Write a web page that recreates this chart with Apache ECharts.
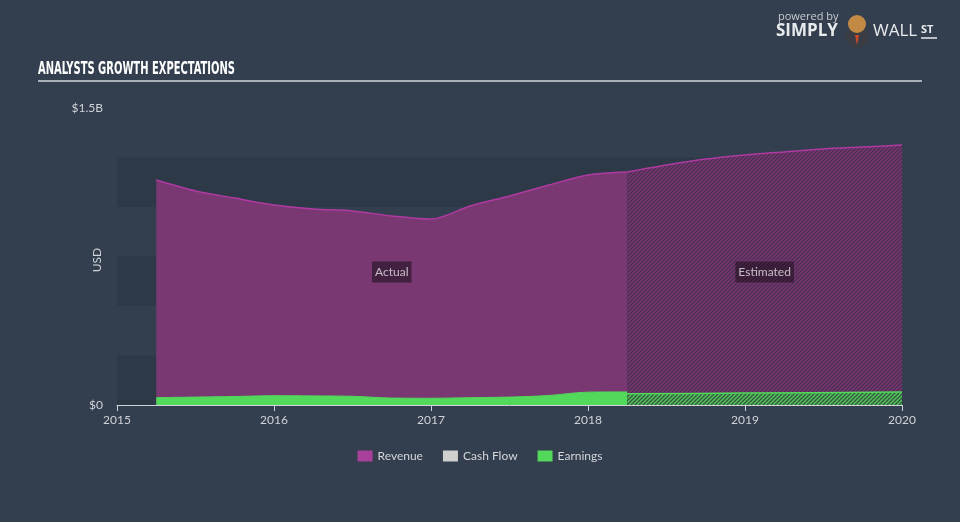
<!DOCTYPE html>
<html>
<head>
<meta charset="utf-8">
<script src="https://cdn.jsdelivr.net/npm/echarts@6/dist/echarts.min.js"></script>
<style>
html,body{margin:0;padding:0;background:#333f4f;}
#chart{width:960px;height:522px;}
</style>
</head>
<body>
<div id="chart"></div>
<script>
// ---- data ----
const revenueActualX = [2015.25, 2015.5, 2015.75, 2016.0, 2016.25, 2016.5, 2016.75, 2017.0, 2017.25, 2017.5, 2017.75, 2018.0, 2018.25];
const revenueActual  = [1.136e9, 1.081e9, 1.045e9, 1.010e9, 0.990e9, 0.980e9, 0.955e9, 0.939e9, 1.005e9, 1.056e9, 1.111e9, 1.162e9, 1.177e9];
const revenueEstX    = [2018.25, 2018.5, 2018.75, 2019.0, 2019.25, 2019.5, 2019.75, 2020.0];
const revenueEst     = [1.177e9, 1.212e9, 1.242e9, 1.263e9, 1.278e9, 1.293e9, 1.303e9, 1.313e9];
const earningsActualX = [2015.25, 2015.5, 2015.75, 2016.0, 2016.25, 2016.5, 2016.75, 2017.0, 2017.25, 2017.5, 2017.75, 2018.0, 2018.25];
const earningsActual  = [0.037e9, 0.040e9, 0.043e9, 0.047e9, 0.046e9, 0.044e9, 0.035e9, 0.034e9, 0.037e9, 0.040e9, 0.048e9, 0.065e9, 0.066e9];
const earningsEstX    = [2018.25, 2019.0, 2020.0];
const earningsEst     = [0.057e9, 0.060e9, 0.066e9];
const cashFlow = [];
const legendNames = ['Revenue', 'Cash Flow', 'Earnings'];
const regionLabels = ['Actual', 'Estimated'];
const regionLabelLevel = 0.672e9;

function pairs(xs, ys){ return xs.map((x,i)=>[x, ys[i]]); }
function mid(xs){ return (xs[0] + xs[xs.length-1]) / 2; }

function hatch(base, stripe, w){
  const c = document.createElement('canvas');
  c.width = 4; c.height = 4;
  const g = c.getContext('2d');
  g.fillStyle = base; g.fillRect(0,0,4,4);
  g.strokeStyle = stripe; g.lineWidth = w;
  g.beginPath();
  g.moveTo(-1,5); g.lineTo(5,-1);
  g.moveTo(-1,1); g.lineTo(1,-1);
  g.moveTo(3,5); g.lineTo(5,3);
  g.stroke();
  return c;
}

const PURPLE = '#7a3873', MAGENTA = '#b03aa2', GREEN = '#52d85a';

const titleText = 'ANALYSTS GROWTH EXPECTATIONS';
const titleFont = 'bold 18px "Liberation Sans Narrow", "DejaVu Sans Condensed", sans-serif';
const mc = document.createElement('canvas').getContext('2d');
mc.font = titleFont;
const titleScale = 197 / mc.measureText(titleText).width;

const chart = echarts.init(document.getElementById('chart'));
const option = {
  backgroundColor: '#333f4f',
  animation: false,
  textStyle: { fontFamily: 'Lato, "Open Sans", sans-serif' },
  grid: { left: 117, right: 58, top: 108, bottom: 117 },
  legend: {
    data: legendNames,
    top: 445,
    left: 'center',
    icon: 'rect',
    itemWidth: 15,
    itemHeight: 11,
    itemGap: 20,
    textStyle: { color: '#d4d6da', fontSize: 12 },
    selectedMode: false
  },
  xAxis: {
    type: 'value',
    min: 2015, max: 2020, interval: 1,
    axisLine: { show: true, lineStyle: { color: '#cfd3d8', width: 1 } },
    axisTick: { show: true, length: 6, lineStyle: { color: '#cfd3d8' } },
    axisLabel: { color: '#cfd3d8', fontSize: 12, margin: 9, formatter: v => String(v) },
    splitLine: { show: false }
  },
  yAxis: {
    type: 'value',
    min: 0, max: 1.5e9, interval: 0.25e9,
    axisLine: { show: false },
    axisTick: { show: false },
    splitLine: { show: false },
    splitArea: { show: true, areaStyle: { color: ['#2e3947', 'rgba(0,0,0,0)'] } },
    axisLabel: {
      color: '#cfd3d8', fontSize: 12, margin: 14,
      formatter: v => v === 0 ? '$0' : (v === 1.5e9 ? '$1.5B' : '')
    }
  },
  series: [
    {
      name: 'Revenue', type: 'line', smooth: 0.3, showSymbol: false,
      data: pairs(revenueActualX, revenueActual),
      itemStyle: { color: '#a8409c' },
      lineStyle: { color: MAGENTA, width: 1.5 },
      areaStyle: { color: PURPLE, opacity: 1 },
      z: 2
    },
    {
      name: 'Revenue', type: 'line', smooth: 0.3, showSymbol: false,
      data: pairs(revenueEstX, revenueEst),
      itemStyle: { color: '#a8409c' },
      lineStyle: { color: MAGENTA, width: 1.5 },
      areaStyle: { color: { image: hatch(PURPLE, 'rgba(48,40,62,0.65)', 1.3), repeat: 'repeat' }, opacity: 1 },
      z: 2
    },
    {
      name: 'Cash Flow', type: 'line', showSymbol: false,
      data: cashFlow,
      itemStyle: { color: '#cfcfcf' },
      lineStyle: { color: '#cfcfcf' }
    },
    {
      name: 'Earnings', type: 'line', smooth: 0.3, showSymbol: false,
      data: pairs(earningsActualX, earningsActual),
      itemStyle: { color: GREEN },
      lineStyle: { color: GREEN, width: 1 },
      areaStyle: { color: GREEN, opacity: 1 },
      z: 3
    },
    {
      name: 'Earnings', type: 'line', smooth: 0.3, showSymbol: false,
      data: pairs(earningsEstX, earningsEst),
      itemStyle: { color: GREEN },
      lineStyle: { color: GREEN, width: 1.5 },
      areaStyle: { color: { image: hatch('#4fc957', 'rgba(50,60,62,0.85)', 1.3), repeat: 'repeat' }, opacity: 1 },
      z: 3
    },
    {
      name: 'regions', type: 'scatter', z: 10, silent: true,
      symbol: 'rect', symbolSize: 1,
      itemStyle: { color: 'rgba(0,0,0,0)' },
      label: {
        show: true, position: 'inside', formatter: p => p.name,
        color: '#e6e2e8', fontSize: 12,
        backgroundColor: 'rgba(36,20,38,0.82)', padding: [5, 3, 4, 3], borderRadius: 1
      },
      data: [
        { name: regionLabels[0], value: [mid(revenueActualX), regionLabelLevel] },
        { name: regionLabels[1], value: [mid(revenueEstX), regionLabelLevel] }
      ]
    }
  ],
  graphic: [
    {
      type: 'text', left: 38, top: 60, scaleX: titleScale, z: 10,
      style: { text: titleText, fill: '#ffffff', font: titleFont }
    },
    {
      type: 'line', z: 10,
      shape: { x1: 38, y1: 81, x2: 922, y2: 81 },
      style: { stroke: '#a9b0b8', lineWidth: 2 }
    },
    {
      type: 'text', x: 97, y: 260, rotation: Math.PI / 2, z: 10,
      style: { text: 'USD', fill: '#cfd3d8', font: '12px Lato, "Open Sans", sans-serif', align: 'center', verticalAlign: 'middle' }
    },
    {
      type: 'text', left: 778, top: 11, z: 10,
      style: { text: 'powered by', fill: '#c9ccd0', font: '11px "Open Sans", sans-serif' }
    },
    {
      type: 'text', left: 776, top: 23, z: 10,
      style: { text: 'SIMPLY', fill: '#e9eaec', font: 'bold 17px "Open Sans", sans-serif' }
    },
    {
      type: 'text', left: 873, top: 23, z: 10,
      style: { text: 'WALL', fill: '#e9eaec', font: '17px "Open Sans", sans-serif' }
    },
    {
      type: 'text', left: 921, top: 24, z: 10,
      style: { text: 'ST', fill: '#e9eaec', font: 'bold 11px "Open Sans", sans-serif' }
    },
    {
      type: 'line', z: 10,
      shape: { x1: 921, y1: 38, x2: 937, y2: 38 },
      style: { stroke: '#e9eaec', lineWidth: 1.5 }
    },
    {
      type: 'circle', z: 9,
      shape: { cx: 857, cy: 36, r: 12 },
      style: { fill: '#3a3d44' }
    },
    {
      type: 'circle', z: 10,
      shape: { cx: 857, cy: 24, r: 9 },
      style: { fill: '#c28a45' }
    },
    {
      type: 'polygon', z: 10,
      shape: { points: [[855, 35], [859, 35], [857, 45]] },
      style: { fill: '#d04a2a' }
    }
  ]
};
chart.setOption(option);
</script>
</body>
</html>
